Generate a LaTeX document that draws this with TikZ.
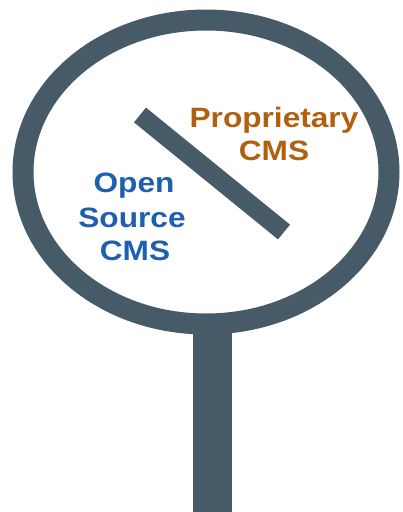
\documentclass[tikz,border=0pt]{standalone}
\usepackage{fontspec}
\newfontfamily\signfont{Liberation Sans}[FakeStretch=1.13]
\definecolor{slate}{HTML}{465A68}
\definecolor{openblue}{HTML}{1F5FB0}
\definecolor{propbrown}{HTML}{B0600F}
\tikzset{
  ring/.style={draw=slate, line width=21pt, fill=white},
  bar/.style={draw=slate, line width=19pt},
  label/.style={anchor=base, inner sep=0pt, font=\signfont\bfseries\fontsize{28}{33}\selectfont},
}
\begin{document}
\begin{tikzpicture}[x=1pt,y=-1pt]
  \useasboundingbox (0,0) rectangle (403,512);
  % handle and glass
  \fill[slate] (193,300) rectangle (232,512);
  \path[ring] (206,172) ellipse [x radius=183pt, y radius=152pt];
  \draw[bar] (140,115) -- (284,232);

  % proprietary side
  \node[label, text=propbrown] (prop) at (274,127) {Proprietary};
  \node[label, text=propbrown] (propcms) at (274,160) {CMS};

  % open source side
  \node[label, text=openblue] (open) at (134,192) {Open};
  \node[label, text=openblue] (source) at (132,227) {Source};
  \node[label, text=openblue] (oscms) at (135,260) {CMS};
\end{tikzpicture}
\end{document}
